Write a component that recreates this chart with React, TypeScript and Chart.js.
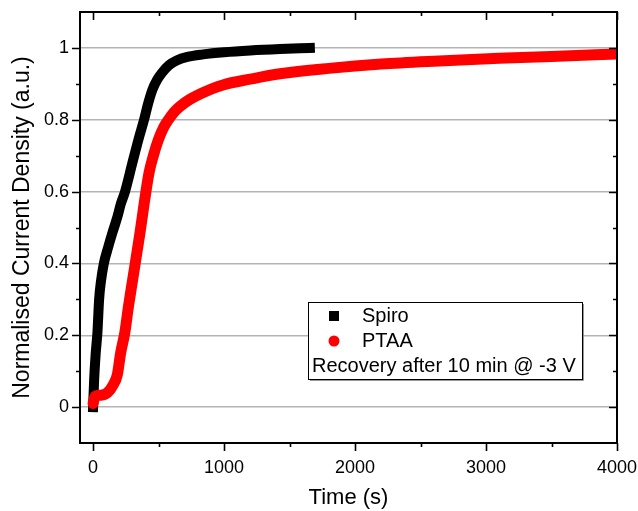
import React, { useEffect, useRef } from 'react';
import { Chart, registerables } from 'chart.js';

Chart.register(...registerables);

// ---- data ----
const spiroTime = [0, 8, 20, 33, 46, 60, 82, 115, 147, 186, 211, 244, 300, 350, 389, 420, 452, 490, 524, 580, 638, 720, 840, 1000, 1200, 1426, 1655];
const spiroValue = [0, 0.076, 0.15, 0.207, 0.3, 0.35, 0.4, 0.445, 0.485, 0.53, 0.565, 0.6, 0.68, 0.75, 0.8, 0.845, 0.883, 0.912, 0.93, 0.952, 0.965, 0.975, 0.982, 0.988, 0.993, 0.997, 1.0];

const ptaaTime = [0, 15, 60, 110, 150, 185, 210, 242, 270, 300, 358, 394, 427, 460, 498, 540, 575, 620, 663, 740, 829, 992, 1200, 1426, 1800, 2200, 2600, 3100, 3500, 4000];
const ptaaValue = [0.01, 0.03, 0.033, 0.04, 0.06, 0.09, 0.15, 0.207, 0.28, 0.35, 0.485, 0.577, 0.652, 0.7, 0.744, 0.78, 0.8, 0.822, 0.837, 0.857, 0.874, 0.897, 0.913, 0.928, 0.943, 0.955, 0.963, 0.971, 0.976, 0.983];

const xTickValues = [0, 1000, 2000, 3000, 4000];
const xTickLabels = ['0', '1000', '2000', '3000', '4000'];
const xMinorTicks = [500, 1500, 2500, 3500];
const yTickValues = [0, 0.2, 0.4, 0.6, 0.8, 1];
const yTickLabels = ['0', '0.2', '0.4', '0.6', '0.8', '1'];
const yMinorTicks = [0.1, 0.3, 0.5, 0.7, 0.9];

const seriesNames = ['Spiro', 'PTAA'];
const legendNote = 'Recovery after 10 min @ -3 V';
const xTitle = 'Time (s)';
const yTitle = 'Normalised Current Density (a.u.)';

const FONT = "'Liberation Sans', Arial, sans-serif";

const framePlugin = {
  id: 'frameTicks',
  afterDraw(chart: any) {
    const { ctx, chartArea, scales } = chart;
    const { left, right, top, bottom } = chartArea;
    const x = scales.x;
    const y = scales.y;
    ctx.save();
    ctx.strokeStyle = '#000';
    ctx.lineWidth = 2;
    ctx.strokeRect(left, top, right - left, bottom - top);
    ctx.lineWidth = 1.6;
    ctx.beginPath();
    const xt = (vals: number[], len: number) => {
      vals.forEach((v) => {
        const px = Math.round(x.getPixelForValue(v)) + 0.5;
        ctx.moveTo(px, bottom);
        ctx.lineTo(px, bottom + len);
        ctx.moveTo(px, top);
        ctx.lineTo(px, top + len);
      });
    };
    const yt = (vals: number[], len: number) => {
      vals.forEach((v) => {
        const py = Math.round(y.getPixelForValue(v)) + 0.5;
        ctx.moveTo(left, py);
        ctx.lineTo(left - len, py);
        ctx.moveTo(right, py);
        ctx.lineTo(right - len, py);
      });
    };
    xt(xTickValues, 8);
    xt(xMinorTicks, 4);
    yt(yTickValues, 8);
    yt(yMinorTicks, 4);
    ctx.stroke();
    ctx.restore();
  },
};

const legendPlugin = {
  id: 'customLegend',
  afterDraw(chart: any) {
    const { ctx } = chart;
    const bx = 308, by = 302, bw = 274, bh = 77;
    ctx.save();
    ctx.fillStyle = '#fff';
    ctx.fillRect(bx, by, bw, bh);
    ctx.strokeStyle = '#777';
    ctx.lineWidth = 1.5;
    ctx.beginPath();
    ctx.moveTo(bx + 2, by + bh + 1);
    ctx.lineTo(bx + bw + 1, by + bh + 1);
    ctx.lineTo(bx + bw + 1, by + 2);
    ctx.stroke();
    ctx.strokeStyle = '#000';
    ctx.lineWidth = 1;
    ctx.strokeRect(bx + 0.5, by + 0.5, bw, bh);
    const ds = chart.data.datasets;
    ctx.fillStyle = ds[0].borderColor;
    ctx.fillRect(329, 311, 10, 10);
    ctx.fillStyle = ds[1].borderColor;
    ctx.beginPath();
    ctx.arc(334, 341, 5.5, 0, Math.PI * 2);
    ctx.fill();
    ctx.fillStyle = '#000';
    ctx.font = `20px ${FONT}`;
    ctx.textBaseline = 'middle';
    ctx.textAlign = 'left';
    ctx.fillText(ds[0].label, 362, 316);
    ctx.fillText(ds[1].label, 362, 341);
    ctx.fillText(legendNote, 312, 366);
    ctx.restore();
  },
};

const zeroPad = (s: any) => {
  s.paddingTop = 0;
  s.paddingBottom = 0;
  s.paddingLeft = 0;
  s.paddingRight = 0;
};

export default function App() {
  const ref = useRef<HTMLCanvasElement | null>(null);
  useEffect(() => {
    if (!ref.current) return;
    const chart = new Chart(ref.current, {
      type: 'line',
      data: {
        datasets: [
          {
            label: seriesNames[0],
            data: spiroTime.map((t, i) => ({ x: t, y: spiroValue[i] })),
            borderColor: '#000000',
            backgroundColor: '#000000',
            borderWidth: 10,
            borderCapStyle: 'square',
            borderJoinStyle: 'round',
            pointRadius: 0,
            cubicInterpolationMode: 'monotone',
            order: 1,
          },
          {
            label: seriesNames[1],
            data: ptaaTime.map((t, i) => ({ x: t, y: ptaaValue[i] })),
            borderColor: '#ff0000',
            backgroundColor: '#ff0000',
            borderWidth: 11,
            borderCapStyle: 'round',
            borderJoinStyle: 'round',
            pointRadius: 0,
            cubicInterpolationMode: 'monotone',
            order: 0,
          },
        ],
      },
      options: {
        animation: false,
        responsive: false,
        maintainAspectRatio: false,
        layout: { padding: { left: 0, top: 12, right: 21, bottom: 0 } },
        plugins: { legend: { display: false }, tooltip: { enabled: false } },
        scales: {
          x: {
            type: 'linear',
            min: -100,
            max: 4000,
            afterBuildTicks: (s: any) => {
              s.ticks = xTickValues.map((v) => ({ value: v }));
            },
            afterFit: (s: any) => {
              s.height = 68;
              zeroPad(s);
            },
            grid: { display: false, drawTicks: false },
            border: { display: false },
            ticks: {
              color: '#000',
              font: { family: FONT, size: 18 },
              padding: 14,
              maxRotation: 0,
              autoSkip: false,
              callback: (_v: any, i: number) => xTickLabels[i],
            },
            title: {
              display: true,
              text: xTitle,
              color: '#000',
              font: { family: FONT, size: 22 },
              padding: { top: 0, bottom: 0 },
            },
          },
          y: {
            type: 'linear',
            min: -0.1,
            max: 1.1,
            afterBuildTicks: (s: any) => {
              s.ticks = yTickValues.map((v) => ({ value: v }));
            },
            afterFit: (s: any) => {
              s.width = 80;
              zeroPad(s);
            },
            grid: { color: '#b4b4b4', lineWidth: 1.5, drawTicks: false },
            border: { display: false },
            ticks: {
              color: '#000',
              font: { family: FONT, size: 18 },
              padding: 11,
              autoSkip: false,
              callback: (_v: any, i: number) => yTickLabels[i],
            },
            title: {
              display: true,
              text: yTitle,
              color: '#000',
              font: { family: FONT, size: 23 },
              padding: { top: 9, bottom: 0 },
            },
          },
        },
      },
      plugins: [framePlugin, legendPlugin],
    } as any);
    return () => chart.destroy();
  }, []);
  return (
    <div style={{ position: 'absolute', left: 0, top: 0, width: 638, height: 511, background: '#fff' }}>
      <canvas ref={ref} width={638} height={511} style={{ width: 638, height: 511 }} />
    </div>
  );
}
